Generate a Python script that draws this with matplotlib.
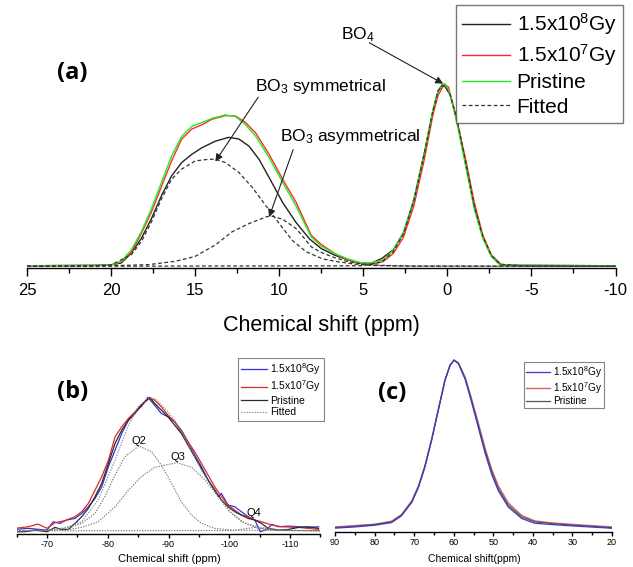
import numpy as np
import matplotlib
matplotlib.use("Agg")
import matplotlib.pyplot as plt
from matplotlib.ticker import MultipleLocator

plt.rcParams['font.family'] = ['Liberation Sans', 'DejaVu Sans']
plt.rcParams['mathtext.fontset'] = 'custom'
plt.rcParams['mathtext.rm'] = 'Liberation Sans'
plt.rcParams['mathtext.it'] = 'Liberation Sans'
plt.rcParams['mathtext.bf'] = 'Liberation Sans:bold'
plt.rcParams['mathtext.default'] = 'regular'
plt.rcParams['axes.unicode_minus'] = False

# ---------------- panel (a): 11B NMR ----------------
a_pri_x = [25, 21, 20.0, 19.4, 18.8, 18.2, 17.6, 17.0, 16.4, 15.8, 15.2, 14.6, 14.0, 13.2, 12.6, 12.0, 11.4, 10.6, 9.8, 9.0,
           8.1, 7.5, 6.7, 5.9, 5.1, 4.5, 3.83, 3.22, 2.6, 1.99, 1.37, 0.86, 0.55, 0.31, 0.14, -0.16, -0.57, -1.09, -1.6, -2.11,
           -2.62, -3.14, -4.4, -10]
a_pri_y = [0.3, 0.5, 0.8, 2.7, 9.0, 18.9, 31.5, 46.0, 60.4, 71.2, 76.6, 78.7, 81.0, 82.9, 82.0, 77.5, 71.2, 59.5, 46.0, 33.0,
           16.1, 11.0, 7.0, 4.0, 1.8, 2.0, 3.4, 8.8, 18.8, 36.8, 62.1, 85.5, 96.4, 99.6, 100, 94.6, 78.3, 54.8, 31.4, 15.2,
           5.2, 0.7, 0.5, 0.3]

a_e7_x = [25, 21, 20.0, 19.4, 18.8, 18.2, 17.6, 17.0, 16.4, 15.8, 15.2, 14.6, 14.0, 13.2, 12.6, 12.0, 11.4, 10.6, 9.8, 9.0,
          8.1, 7.5, 6.7, 5.9, 5.1, 4.5, 3.83, 3.22, 2.6, 1.99, 1.37, 0.86, 0.55, 0.18, -0.06, -0.47, -1.09, -1.6, -2.11, -2.62,
          -3.24, -4.4, -10]
a_e7_y = [0.3, 0.5, 0.8, 2.4, 7.7, 18.0, 29.7, 43.8, 57.7, 69.7, 75.1, 77.5, 80.5, 82.5, 82.3, 78.7, 73.0, 61.3, 47.7, 35.1,
          17.0, 12.0, 7.0, 3.4, 1.6, 1.1, 2.5, 7.0, 16.1, 33.2, 58.5, 82.8, 93.7, 99.6, 98.2, 83.8, 58.5, 35.0, 17.0, 6.1,
          0.7, 0.5, 0.3]

a_e8_x = [25, 21, 20.0, 19.4, 18.8, 18.2, 17.6, 17.0, 16.4, 15.8, 15.2, 14.6, 13.8, 13.0, 12.4, 11.8, 11.2, 10.6, 9.8, 9.0,
          8.2, 7.5, 6.7, 5.9, 5.1, 4.5, 3.9, 3.22, 2.6, 1.99, 1.37, 0.86, 0.55, 0.31, 0.14, -0.16, -0.57, -1.09, -1.6, -2.11,
          -2.62, -3.14, -4.4, -10]
a_e8_y = [0.3, 0.5, 0.8, 1.8, 7.2, 15.3, 26.1, 38.7, 49.5, 56.8, 61.3, 64.9, 68.5, 70.6, 69.7, 65.8, 58.6, 48.6, 35.0, 24.0,
          15.0, 9.7, 6.1, 3.4, 1.6, 1.8, 4.3, 9.0, 18.5, 36.5, 62.0, 85.0, 96.0, 99.0, 98.5, 94.0, 80.0, 56.0, 32.5, 16.0,
          5.6, 0.8, 0.5, 0.3]

# fitted components (a)
a_sym_x = [25, 21, 20.0, 18.8, 18.2, 17.6, 17.0, 16.4, 15.8, 15.0, 14.2, 13.8, 13.2, 12.4, 11.6, 10.8, 10.0, 9.2, 8.4, 7.4,
           6.5, 5.5, 4.5, 3.0, -10]
a_sym_y = [0, 0.2, 0.8, 6.3, 13.5, 24.3, 36.9, 47.7, 53.2, 57.7, 58.6, 58.6, 56.8, 51.4, 43.2, 33.3, 23.4, 14.0, 8.0, 4.0,
           2.5, 1.2, 0.5, 0.2, 0]
a_asym_x = [25, 20, 17.8, 16.2, 15.0, 13.8, 12.8, 11.8, 10.8, 10.5, 9.8, 9.0, 8.7, 8.1, 7.5, 6.7, 5.9, 5.1, 3.9, 2.0, -10]
a_asym_y = [0, 0.3, 0.9, 2.7, 5.4, 11.7, 18.9, 23.4, 27.0, 27.6, 25.8, 20.7, 17.5, 10.7, 7.6, 4.7, 2.5, 1.3, 0.5, 0.1, 0]
a_bo4_x = [25, 5.0, 3.9, 3.22, 2.6, 1.99, 1.37, 0.86, 0.55, 0.31, 0.14, -0.16, -0.57, -1.09, -1.6, -2.11, -2.62, -3.14,
           -4.4, -10]
a_bo4_y = [0, 0.3, 2.5, 8.0, 18.0, 36.0, 61.5, 85.0, 96.0, 99.0, 98.5, 94.0, 80.5, 57.0, 33.0, 16.5, 6.0, 1.2, 0.2, 0]

# ---------------- panel (b): 29Si NMR ----------------
b_pri_x = [-64.7, -66.3, -68.0, -70.0, -71.3, -72.4, -73.5, -74.6, -75.7, -76.8, -77.9, -79.0, -80.1, -81.2, -82.3, -83.4,
           -84.5, -85.5, -86.9, -87.7, -88.8, -89.9, -91.0, -92.1, -93.2, -94.3, -95.4, -96.5, -97.6, -98.7, -99.8, -100.9,
           -102.0, -103.1, -104.2, -105.3, -106.4, -108.1, -109.7, -111.4, -113.0, -114.7]
b_pri_y = [0, 0, 1.2, 0, 3.2, 1.7, 1.7, 6.2, 11.2, 17.4, 26.1, 36.0, 50.9, 65.8, 75.7, 83.1, 88.1, 94.3, 100, 95.5, 90.6,
           85.6, 79.4, 73.2, 64.5, 55.8, 47.1, 38.5, 31.0, 23.6, 18.6, 14.9, 12.4, 9.9, 8.7, 6.2, 2.5, 1.2, 1.7, 3.2, 3.7, 2.5]

b_e8_x = [-64.7, -66.9, -70.0, -71.0, -72.1, -73.2, -74.6, -75.7, -76.8, -77.9, -79.0, -80.1, -81.2, -82.3, -83.4, -84.5,
          -85.5, -86.6, -87.7, -88.8, -89.9, -91.0, -92.1, -93.2, -94.3, -95.4, -96.5, -97.6, -98.2, -98.7, -99.8, -100.9,
          -102.0, -103.1, -104.2, -105.1, -106.2, -107.0, -108.1, -109.7, -111.4, -113.0, -114.7]
b_e8_y = [1.7, 2.5, 1.2, 7.4, 6.2, 8.7, 9.9, 13.6, 18.6, 24.8, 33.5, 48.4, 60.8, 73.2, 83.1, 89.3, 93.1, 100, 94.3, 88.1,
          85.6, 81.9, 75.7, 67.0, 57.1, 48.4, 38.5, 31.0, 26.1, 28.5, 19.9, 18.6, 14.9, 11.2, 8.7, 0, 1.7, 5.5, 3.7, 4.2,
          3.7, 3.2, 3.7]

b_e7_x = [-64.7, -66.9, -68.5, -70.0, -71.3, -72.9, -74.6, -75.7, -76.8, -77.9, -79.0, -80.1, -81.2, -82.3, -83.4, -84.5,
          -85.5, -86.9, -87.7, -88.8, -89.9, -91.0, -92.1, -93.2, -94.3, -95.4, -96.5, -97.6, -98.7, -99.8, -100.9, -102.0,
          -103.1, -104.2, -105.3, -107.0, -108.6, -111.4, -114.7]
b_e7_y = [2.5, 3.7, 5.7, 2.5, 6.7, 8.2, 11.2, 14.9, 21.1, 31.0, 40.9, 53.3, 70.7, 78.2, 84.4, 89.3, 94.3, 99.5, 98.0, 93.1,
          86.8, 81.9, 74.4, 67.0, 59.6, 50.9, 42.2, 33.5, 26.1, 19.9, 16.1, 12.4, 11.2, 8.7, 7.4, 5.0, 3.7, 3.2, 1.7]

# fitted Q units (b)
b_q2_x = [-65, -70.0, -72.9, -75.7, -77.9, -79.5, -81.2, -82.8, -85.1, -87.2, -88.8, -90.5, -92.1, -93.8, -95.4, -97.6,
          -100.4, -115]
b_q2_y = [0.7, 1.2, 2.5, 6.2, 13.6, 26.1, 42.2, 55.8, 63.8, 59.6, 49.6, 36.0, 22.3, 12.4, 6.2, 2.5, 1.2, 0.7]
b_q3_x = [-65, -72.9, -75.7, -78.4, -81.2, -83.4, -85.5, -87.7, -91.4, -93.8, -96.0, -98.2, -100.4, -102.6, -104.8, -107.5,
          -115]
b_q3_y = [0.7, 1.2, 3.2, 7.4, 18.6, 31.0, 40.9, 47.9, 51.4, 47.9, 38.5, 26.1, 13.6, 6.2, 2.5, 1.2, 0.7]
b_q4_x = [-65, -100.9, -102.6, -104.2, -105.8, -107.5, -115]
b_q4_y = [0.7, 0.9, 2.2, 3.2, 2.2, 0.9, 0.7]
b_env_x = [-65, -70, -73, -75.7, -78.4, -81.2, -83.4, -85.0, -86.6, -87.7, -89.4, -91.0, -93.2, -95.4, -97.6, -99.8, -102.0,
           -104.2, -106.4, -108.6, -115]
b_env_y = [0.7, 1.2, 3.0, 7.4, 23.6, 53.3, 79.4, 93.1, 99.3, 99.3, 91.8, 83.1, 65.8, 45.9, 29.8, 16.1, 7.4, 4.2, 2.5, 1.2, 0.7]

# ---------------- panel (c): 27Al NMR ----------------
c_x = [90, 85, 80, 75.7, 73.2, 70.6, 68.9, 67.3, 65.6, 63.9, 62.2, 60.9, 59.9, 58.8, 57.1, 55.5, 53.8, 52.1, 50.4, 48.7,
       46.2, 42.8, 39.5, 35.2, 29.3, 22.6, 20]
c_e8_y = [0.3, 1.0, 2.0, 3.6, 7.6, 15.6, 24.6, 36.4, 52.3, 70.2, 88.0, 97.0, 100, 97.8, 88.5, 75.2, 60.2, 45.0, 32.2, 22.3,
          12.8, 6.0, 3.2, 2.4, 1.5, 0.6, 0.2]
c_e7_y = [1.0, 1.8, 2.6, 4.4, 8.4, 16.5, 25.5, 37.2, 53.0, 70.8, 88.4, 97.2, 100, 98.4, 89.8, 77.2, 62.8, 48.0, 35.2, 25.2,
          15.2, 7.8, 4.6, 3.4, 2.4, 1.4, 1.0]
c_pri_y = [0.6, 1.4, 2.4, 4.0, 7.9, 15.8, 24.8, 36.6, 52.5, 70.3, 88.1, 97.0, 100, 98.0, 89.1, 76.2, 61.4, 46.5, 33.7, 23.8,
           13.9, 6.9, 4.0, 3.0, 2.0, 1.0, 0.6]

lab_e8 = '1.5x10$^8$Gy'
lab_e7 = '1.5x10$^7$Gy'

W, H = 633, 567


def px(x, y):
    # pixel position in the picture -> figure fraction
    return x / W, 1 - y / H


def bare_axis(ax, major, minor, fs, tl_major, tl_minor, pad):
    for s in ['top', 'left', 'right']:
        ax.spines[s].set_visible(False)
    ax.spines['bottom'].set_linewidth(1.0)
    ax.set_yticks([])
    ax.xaxis.set_major_locator(MultipleLocator(major))
    ax.xaxis.set_minor_locator(MultipleLocator(minor))
    ax.tick_params(axis='x', which='major', direction='out', length=tl_major, width=1.0, labelsize=fs, pad=pad)
    ax.tick_params(axis='x', which='minor', direction='out', length=tl_minor, width=1.0)
    ax.set_facecolor('none')


fig = plt.figure(figsize=(6.33, 5.67), dpi=100)

# ---- (a)
ax1 = fig.add_axes([27 / W, 1 - 268.5 / H, 588.5 / W, 268.5 / H])
ax1.plot(a_e8_x, a_e8_y, color='#222222', lw=1.0, label=lab_e8)
ax1.plot(a_e7_x, a_e7_y, color='#ff2a2a', lw=1.0, label=lab_e7)
ax1.plot(a_pri_x, a_pri_y, color='#22ee22', lw=1.0, label='Pristine')
dash = (0, (3, 2))
ax1.plot(a_sym_x, a_sym_y, color='#333333', lw=0.9, ls=dash, label='Fitted')
ax1.plot(a_asym_x, a_asym_y, color='#333333', lw=0.9, ls=dash)
ax1.plot(a_bo4_x, a_bo4_y, color='#333333', lw=0.9, ls=dash)
ax1.set_xlim(25, -10)
ax1.set_ylim(-1.2, 145.8)
bare_axis(ax1, 5, 2.5, 12, 5.8, 3.6, 5.0)

arrow = dict(arrowstyle='-|>', color='#222222', lw=0.8, mutation_scale=11, shrinkA=0, shrinkB=0)
ax1.annotate('', xy=(13.8, 57.4), xytext=(11.25, 92.6), arrowprops=arrow)
ax1.annotate('', xy=(10.6, 27.0), xytext=(9.17, 63.9), arrowprops=arrow)
ax1.annotate('', xy=(0.25, 100.0), xytext=(4.64, 122.4), arrowprops=arrow)
ax1.text(11.43, 98.5, 'BO$_3$ symmetrical', fontsize=12.5, ha='left', va='center')
ax1.text(9.94, 71.0, 'BO$_3$ asymmetrical', fontsize=12.5, ha='left', va='center')
ax1.text(6.31, 127.0, 'BO$_4$', fontsize=12.5, ha='left', va='center')

ax1.legend(loc='upper right', bbox_to_anchor=px(623, 5), bbox_transform=fig.transFigure, borderaxespad=0,
           fontsize=15, frameon=True, fancybox=False, edgecolor='#555555', handlelength=2.3, handletextpad=0.3,
           labelspacing=0.25, borderpad=0.3).get_frame().set_linewidth(1.0)

fig.text(*px(321, 325), 'Chemical shift (ppm)', fontsize=15.5, ha='center', va='center')
fig.text(*px(72, 73), '(a)', fontsize=17, fontweight='bold', family=['Open Sans', 'DejaVu Sans'], ha='center', va='center')

# ---- (b)
ax2 = fig.add_axes([16.7 / W, 1 - 534 / H, 303.7 / W, 184 / H])
dot = (0, (1.2, 1.2))
ax2.plot(b_e8_x, b_e8_y, color='#3333dd', lw=0.9, label=lab_e8)
ax2.plot(b_e7_x, b_e7_y, color='#e02828', lw=0.9, label=lab_e7)
ax2.plot(b_pri_x, b_pri_y, color='#2a2a2a', lw=0.9, label='Pristine')
ax2.plot(b_env_x, b_env_y, color='#888888', lw=0.8, ls=dot, label='Fitted')
ax2.plot(b_q2_x, b_q2_y, color='#777777', lw=0.8, ls=dot)
ax2.plot(b_q3_x, b_q3_y, color='#777777', lw=0.8, ls=dot)
ax2.plot(b_q4_x, b_q4_y, color='#777777', lw=0.8, ls=dot)
ax2.set_xlim(-65, -115)
ax2.set_ylim(-1.7, 135.3)
bare_axis(ax2, 10, 5, 6.5, 3.0, 1.8, 1.5)
ax2.text(-85.1, 67.7, 'Q2', fontsize=8, ha='center', va='center')
ax2.text(-91.6, 55.8, 'Q3', fontsize=8, ha='center', va='center')
ax2.text(-104.1, 13.6, 'Q4', fontsize=8, ha='center', va='center')
ax2.legend(loc='upper right', bbox_to_anchor=px(324, 358), bbox_transform=fig.transFigure, borderaxespad=0,
           fontsize=7.5, frameon=True, fancybox=False, edgecolor='#666666', handlelength=2.5, handletextpad=0.3,
           labelspacing=0.15, borderpad=0.3).get_frame().set_linewidth(0.8)
fig.text(*px(169, 559), 'Chemical shift (ppm)', fontsize=8, ha='center', va='center')
fig.text(*px(73, 392), '(b)', fontsize=17, fontweight='bold', family=['Open Sans', 'DejaVu Sans'], ha='center', va='center')

# ---- (c)
ax3 = fig.add_axes([335 / W, 1 - 532 / H, 277 / W, 182 / H])
ax3.plot(c_x, c_e7_y, color='#e06060', lw=1.0, label=lab_e7, zorder=2)
ax3.plot(c_x, c_pri_y, color='#555555', lw=0.9, label='Pristine', zorder=3)
ax3.plot(c_x, c_e8_y, color='#3a3acc', lw=0.9, label=lab_e8, zorder=4)
ax3.set_xlim(90, 20)
ax3.set_ylim(-2.0, 106)
bare_axis(ax3, 10, 5, 6.5, 3.0, 1.8, 1.5)
h, l = ax3.get_legend_handles_labels()
order = [2, 0, 1]
leg = ax3.legend([h[i] for i in order], [l[i] for i in order], loc='upper right', bbox_to_anchor=px(604, 361.7),
                 bbox_transform=fig.transFigure, borderaxespad=0, fontsize=7.2, frameon=True, fancybox=False,
                 edgecolor='#666666', handlelength=2.4, handletextpad=0.3, labelspacing=0.05, borderpad=0.2)
leg.get_frame().set_linewidth(0.8)
fig.text(*px(474, 559), 'Chemical shift(ppm)', fontsize=7.5, ha='center', va='center')
fig.text(*px(392, 393), '(c)', fontsize=17, fontweight='bold', family=['Open Sans', 'DejaVu Sans'], ha='center', va='center')

fig.savefig('out.png', dpi=100)
